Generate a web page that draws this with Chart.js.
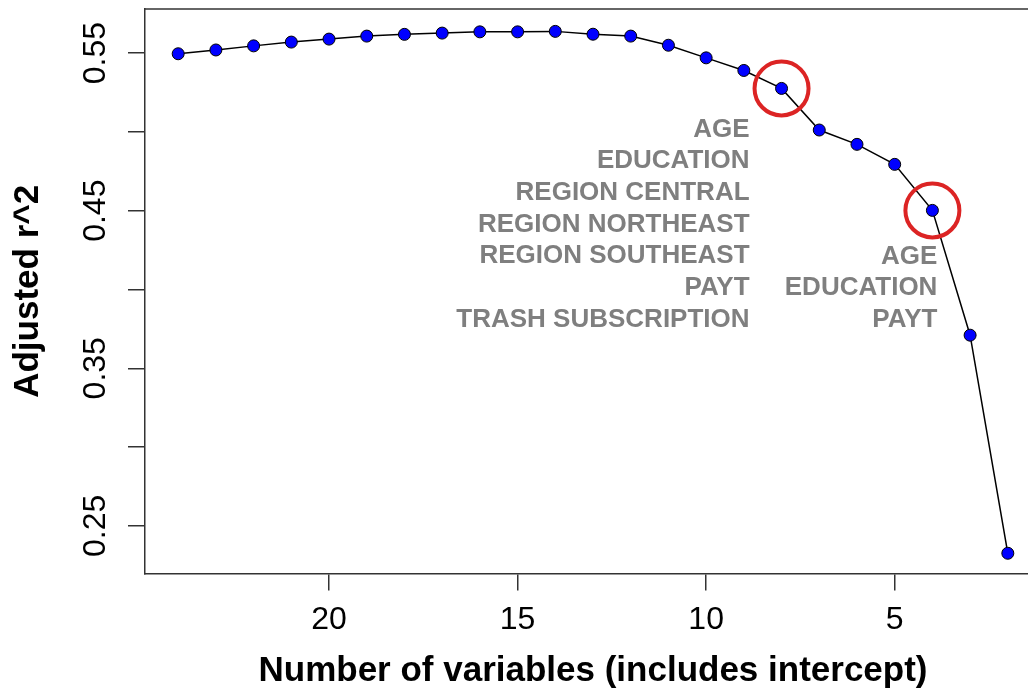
<!DOCTYPE html>
<html>
<head>
<meta charset="utf-8">
<script src="https://cdn.jsdelivr.net/npm/chart.js@4.4.1/dist/chart.umd.min.js"></script>
<style>
  html, body { margin: 0; padding: 0; overflow: hidden; background: #fff; }
</style>
</head>
<body>
<canvas id="grafico" width="1041" height="694"></canvas>
<script>
/* ==========================================================================
   1. DATOS
   ========================================================================== */
const numVariables = [24, 23, 22, 21, 20, 19, 18, 17, 16, 15, 14, 13, 12, 11, 10, 9, 8, 7, 6, 5, 4, 3, 2];
const adjR2 = [0.5496, 0.5520, 0.5546, 0.5570, 0.5589, 0.5608, 0.5619, 0.5627, 0.5635, 0.5635, 0.5638, 0.5620,
               0.5608, 0.5550, 0.5470, 0.5390, 0.5276, 0.5012, 0.4921, 0.4794, 0.4502, 0.3710, 0.2326];

const xTicks = [5, 10, 15, 20];
const yTicks = [0.25, 0.30, 0.35, 0.40, 0.45, 0.50, 0.55];
const yTickLabels = ['0.25', '', '0.35', '', '0.45', '', '0.55'];

// Modelos marcados con círculo rojo
const modelosMarcados = [8, 4];
const variablesModelo8 = ['AGE', 'EDUCATION', 'REGION CENTRAL', 'REGION NORTHEAST', 'REGION SOUTHEAST', 'PAYT', 'TRASH SUBSCRIPTION'];
const variablesModelo4 = ['AGE', 'EDUCATION', 'PAYT'];

const FUENTE = '"Liberation Sans", Arial, Helvetica, sans-serif';

/* ==========================================================================
   2. PLUGIN: marco, etiquetas eje Y y textos
   ========================================================================== */
const pluginExtras = {
    id: 'extras',
    afterDraw(chart) {
        const { ctx, chartArea: a, scales: { x, y } } = chart;
        ctx.save();

        // línea superior del marco
        ctx.strokeStyle = '#333';
        ctx.lineWidth = 1.5;
        ctx.beginPath();
        ctx.moveTo(a.left, a.top);
        ctx.lineTo(a.right, a.top);
        ctx.stroke();

        // etiquetas del eje Y (giradas)
        ctx.font = '32px ' + FUENTE;
        ctx.fillStyle = '#000';
        ctx.textAlign = 'center';
        ctx.textBaseline = 'middle';
        yTicks.forEach((v, i) => {
            if (!yTickLabels[i]) return;
            ctx.save();
            ctx.translate(a.left - 49, y.getPixelForValue(v));
            ctx.rotate(-Math.PI / 2);
            ctx.fillText(yTickLabels[i], 0, 0);
            ctx.restore();
        });

        // listas de variables de cada modelo marcado
        ctx.font = 'bold 26px ' + FUENTE;
        ctx.fillStyle = '#7f7f7f';
        ctx.textAlign = 'right';
        const bloques = [
            { n: 8, lineas: variablesModelo8, dx: -32, dy: 41 },
            { n: 4, lineas: variablesModelo4, dx: 5, dy: 46 }
        ];
        bloques.forEach(b => {
            const px = x.getPixelForValue(b.n);
            const py = y.getPixelForValue(adjR2[numVariables.indexOf(b.n)]);
            b.lineas.forEach((t, i) => ctx.fillText(t, px + b.dx, py + b.dy + i * 31.7));
        });

        ctx.restore();
    }
};

/* ==========================================================================
   3. GRÁFICO
   ========================================================================== */
const puntos = numVariables.map((n, i) => ({ x: n, y: adjR2[i] }));
const marcados = modelosMarcados.map(n => ({ x: n, y: adjR2[numVariables.indexOf(n)] }));

new Chart(document.getElementById('grafico').getContext('2d'), {
    type: 'scatter',
    data: {
        datasets: [
            {
                data: marcados,
                showLine: false,
                pointRadius: 27,
                pointHoverRadius: 27,
                pointBorderWidth: 4,
                pointBorderColor: '#dc2424',
                pointBackgroundColor: 'rgba(0,0,0,0)',
                clip: false
            },
            {
                data: puntos,
                showLine: true,
                borderColor: '#000',
                borderWidth: 1.5,
                pointRadius: 6,
                pointBorderWidth: 1,
                pointBorderColor: '#000',
                pointBackgroundColor: '#0000ff',
                clip: false
            }
        ]
    },
    options: {
        responsive: false,
        animation: false,
        layout: { autoPadding: false, padding: { top: 9, left: 0, right: 0, bottom: 0 } },
        plugins: { legend: { display: false }, tooltip: { enabled: false } },
        scales: {
            x: {
                type: 'linear',
                reverse: true,
                min: 1.12,
                max: 24.88,
                afterBuildTicks: s => { s.ticks = xTicks.map(v => ({ value: v })); },
                ticks: { font: { size: 32, family: FUENTE }, color: '#000', padding: 10, autoSkip: false, maxRotation: 0 },
                grid: { drawOnChartArea: false, drawTicks: true, tickLength: 17, color: '#333', lineWidth: 1.5 },
                border: { display: true, color: '#333', width: 1.5 },
                title: {
                    display: true,
                    text: 'Number of variables (includes intercept)',
                    color: '#000',
                    font: { size: 35, weight: 'bold', family: FUENTE },
                    padding: { top: 1, bottom: 2 }
                }
            },
            y: {
                min: 0.2197,
                max: 0.578,
                afterBuildTicks: s => { s.ticks = yTicks.map(v => ({ value: v })); },
                ticks: { display: false },
                grid: { drawOnChartArea: false, drawTicks: true, tickLength: 17, color: '#333', lineWidth: 1.5 },
                border: { display: true, color: '#333', width: 1.5 },
                title: {
                    display: true,
                    text: 'Adjusted r^2',
                    color: '#000',
                    font: { size: 35, weight: 'bold', family: FUENTE },
                    padding: { top: 7, bottom: 79 }
                }
            }
        }
    },
    plugins: [pluginExtras]
});
</script>
</body>
</html>
